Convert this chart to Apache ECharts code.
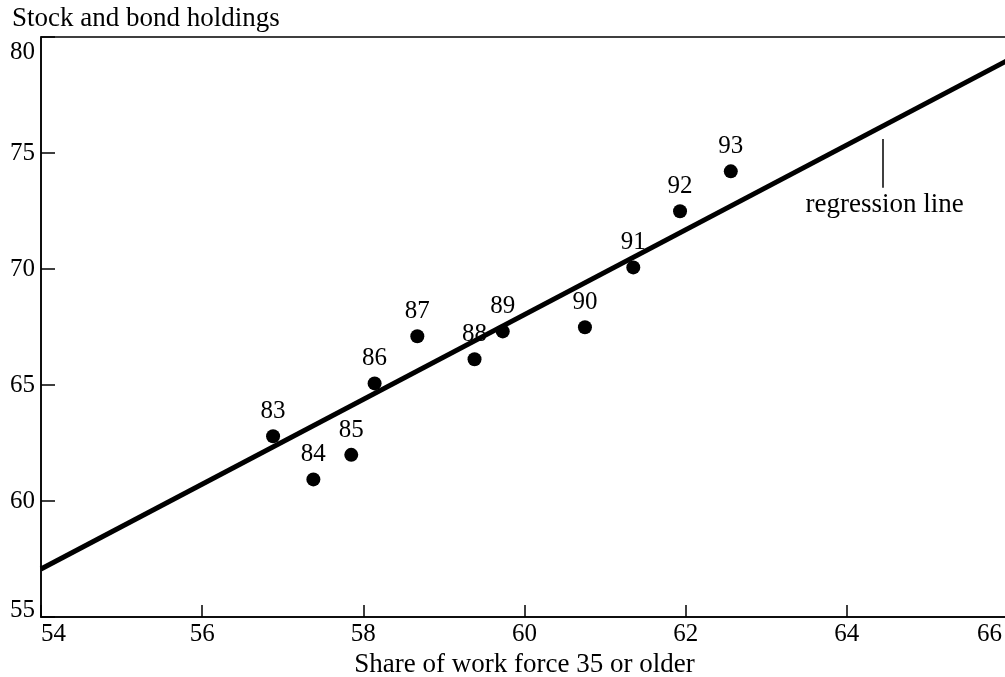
<!DOCTYPE html>
<html>
<head>
<meta charset="utf-8">
<script src="https://cdn.jsdelivr.net/npm/echarts@6/dist/echarts.min.js"></script>
<style>html,body{margin:0;padding:0;background:#fff}#c{width:1005px;height:677px}</style>
</head>
<body>
<div id="c"></div>
<script>
const years = ['83','84','85','86','87','88','89','90','91','92','93'];
const shareOlder = [56.88, 57.38, 57.85, 58.14, 58.67, 59.38, 59.73, 60.75, 61.35, 61.93, 62.56];
const holdings = [62.79, 60.93, 61.99, 65.07, 67.10, 66.11, 67.31, 67.49, 70.07, 72.49, 74.21];
const regressionX = [54, 66];
const regressionY = [57.07, 79.0];
const annotationLineX = [64.45, 64.45];
const annotationLineY = [75.6, 73.5];
const annotationTextPos = [64.47, 72.75];
const annotationText = 'regression line';
const xTitle = 'Share of work force 35 or older';
const yTitle = 'Stock and bond holdings';
const xMin = 54, xMax = 66, yMin = 55, yMax = 80;

const FONT = "'Liberation Serif', 'Times New Roman', serif";
const lbl = {fontFamily: FONT, fontSize: 25, color: '#000'};
const chart = echarts.init(document.getElementById('c'));
chart.setOption({
  animation: false,
  backgroundColor: '#fff',
  title: {
    text: yTitle, left: 7, top: 0,
    textStyle: {fontFamily: FONT, fontSize: 27, fontWeight: 'normal', color: '#000'}
  },
  grid: {left: 41, width: 967, top: 37, height: 580, outerBoundsMode: 'none', containLabel: false, show: true, borderColor: '#000', borderWidth: 1.5, backgroundColor: 'transparent'},
  xAxis: {
    type: 'value', min: xMin, max: xMax, interval: 2,
    name: xTitle, nameLocation: 'middle', nameGap: 29,
    nameTextStyle: {fontFamily: FONT, fontSize: 27, color: '#000'},
    axisLine: {lineStyle: {color: '#000', width: 1.5}},
    axisTick: {show: true, inside: true, length: 12, lineStyle: {color: '#000', width: 1.5}},
    axisLabel: Object.assign({}, lbl, {
      margin: 5, alignMinLabel: 'left', alignMaxLabel: 'right',
      formatter: v => v === xMax ? '{m|' + v + '}' : String(v),
      rich: {m: Object.assign({}, lbl, {padding: [0, 6, 0, 0]})}
    }),
    splitLine: {show: false}
  },
  yAxis: {
    type: 'value', min: yMin, max: yMax, interval: 5,
    axisLine: {show: true, lineStyle: {color: '#000', width: 1.5}},
    axisTick: {show: true, inside: true, length: 14, lineStyle: {color: '#000', width: 1.5}},
    axisLabel: Object.assign({}, lbl, {
      margin: 6, verticalAlignMinLabel: 'bottom', verticalAlignMaxLabel: 'top',
      formatter: v => v === yMin ? '{lo|' + v + '}' : (v === yMax ? '{hi|' + v + '}' : String(v)),
      rich: {
        lo: Object.assign({}, lbl, {lineHeight: 14}),
        hi: Object.assign({}, lbl, {lineHeight: 30})
      }
    }),
    splitLine: {show: false}
  },
  series: [
    {
      type: 'line',
      data: regressionX.map((x, i) => [x, regressionY[i]]),
      showSymbol: false, symbol: 'none',
      lineStyle: {color: '#000', width: 5},
      z: 2,
      markLine: {
        silent: true, symbol: 'none',
        lineStyle: {color: '#000', width: 1.5, type: 'solid'},
        label: {show: false},
        data: [[{coord: [annotationLineX[0], annotationLineY[0]]}, {coord: [annotationLineX[1], annotationLineY[1]]}]]
      },
      markPoint: {
        symbol: 'circle', symbolSize: 0,
        label: {show: true, position: 'inside', formatter: annotationText, fontFamily: FONT, fontSize: 27, color: '#000'},
        data: [{coord: annotationTextPos}]
      }
    },
    {
      type: 'scatter',
      data: years.map((y, i) => ({name: y, value: [shareOlder[i], holdings[i]]})),
      symbol: 'circle', symbolSize: 14,
      itemStyle: {color: '#000', opacity: 1},
      label: {show: true, position: 'top', distance: 5, formatter: '{b}', fontFamily: FONT, fontSize: 25, color: '#000', opacity: 1},
      z: 3
    }
  ]
});
</script>
</body>
</html>
